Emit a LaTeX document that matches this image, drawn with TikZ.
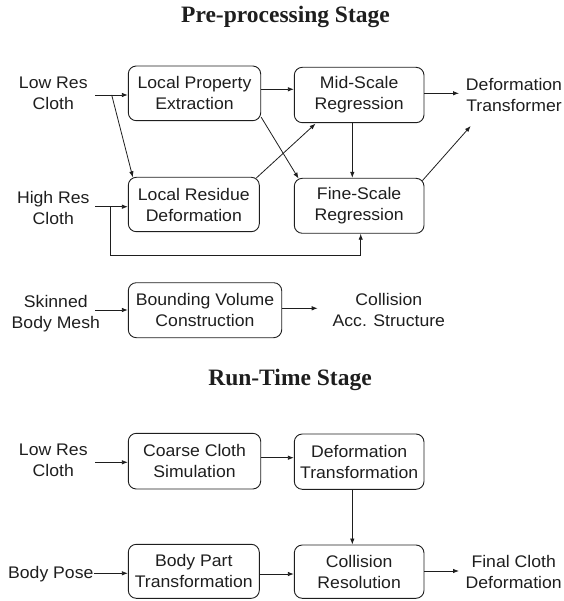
\documentclass[tikz,border=0pt]{standalone}
\usepackage{fontspec}
\newfontfamily\sansf{Liberation Sans}[FakeStretch=1.05]
\newfontfamily\titlef{Liberation Serif}
\usetikzlibrary{arrows.meta,calc}
\definecolor{ink}{HTML}{1E1E1E}
\begin{document}
\begin{tikzpicture}[x=1pt,y=-1pt,
  box/.style={draw=ink, line width=0.9pt, rounded corners=8pt, inner sep=0pt, align=center,
    text=ink, font=\sansf\fontsize{16.8}{21}\selectfont},
  lbl/.style={inner sep=0pt, align=center, text=ink, font=\sansf\fontsize{16.8}{21}\selectfont},
  arr/.style={draw=ink, line width=0.8pt, -{Latex[length=6pt,width=4.5pt]}},
  ttl/.style={inner sep=0pt, text=ink, font=\titlef\bfseries\fontsize{23.5}{28}\selectfont}]
\useasboundingbox (0,0) rectangle (563,601);

% titles
\node[ttl, anchor=base] (t1) at (285.5,22.7) {Pre-processing Stage};
\node[ttl, anchor=base] (t2) at (290,385) {Run-Time Stage};

% boxes
\node[box, minimum width=132.4pt, minimum height=54.7pt] (LPE) at (194.5,93.35) {Local Property\\Extraction};
\node[box, minimum width=129.7pt, minimum height=55.4pt] (MSR) at (359.15,95) {Mid-Scale\\Regression};
\node[box, minimum width=131pt, minimum height=54.4pt] (LRD) at (193.8,204.5) {Local Residue\\Deformation};
\node[box, minimum width=129.7pt, minimum height=55pt] (FSR) at (359.15,205.8) {Fine-Scale\\Regression};
\node[box, minimum width=153.4pt, minimum height=55pt] (BVC) at (205,310.2) {Bounding Volume\\Construction};
\node[box, minimum width=132.4pt, minimum height=55.7pt] (CCS) at (194.5,461.15) {Coarse Cloth\\Simulation};
\node[box, minimum width=129.7pt, minimum height=55.3pt] (DTf) at (359.15,461.65) {Deformation\\Transformation};
\node[box, minimum width=131pt, minimum height=54pt] (BPT) at (193.8,571.3) {Body Part\\Transformation};
\node[box, minimum width=129.7pt, minimum height=53.3pt] (CR) at (359.15,571.65) {Collision\\Resolution};

% free labels
\node[lbl] (lr1) at (53.3,93.5) {Low Res\\Cloth};
\node[lbl] (hr) at (53.3,208) {High Res\\Cloth};
\node[lbl] (skin) at (55.8,313.3) {Skinned\\Body Mesh};
\node[lbl] (cas) at (388.8,310.3) {Collision\\Acc. Structure};
\node[lbl] (dtr) at (514,95) {Deformation\\Transformer};
\node[lbl] (lr2) at (53.3,460) {Low Res\\Cloth};
\node[lbl, anchor=base] (bp) at (50.8,578.3) {Body Pose};
\node[lbl] (fcd) at (513.7,572) {Final Cloth\\Deformation};

% coordinates for free ends
\coordinate (lr1o) at (95,95);
\coordinate (br1) at (111.7,95);
\coordinate (hr1o) at (95,206.7);
\coordinate (br2) at (110,206.7);
\coordinate (bot) at (360.7,255);
\coordinate (dtin) at (459,93.3);
\coordinate (dtin2) at (470.7,126);
\coordinate (sko) at (95,310);
\coordinate (caout) at (317.7,308.3);
\coordinate (lr2o) at (95,462.3);
\coordinate (fcin) at (459,571);

% pre-processing connectors
\draw[arr] (lr1o) -- (lr1o -| LPE.west);
\draw[arr] (br1) -- ($(LRD.north west)+(5,0.5)$);
\draw[arr] (hr1o) -- (hr1o -| LRD.west);
\draw[arr] (br2) |- (bot) -- (bot |- FSR.south);
\draw[arr] (LPE.east |- 0,89.3) -- (MSR.west |- 0,89.3);
\draw[arr] ($(LPE.south east)+(0,-4)$) -- ($(FSR.north west)+(4.7,0.7)$);
\draw[arr] ($(LRD.north east)+(-3.6,1.3)$) -- ($(MSR.south west)+(21.7,0.5)$);
\draw[arr] (MSR.south -| 352.3,0) -- (FSR.north -| 352.3,0);
\draw[arr] (MSR.east |- dtin) -- (dtin);
\draw[arr] ($(FSR.north east)+(-2,2.7)$) -- (dtin2);
\draw[arr] (sko) -- (sko -| BVC.west);
\draw[arr] (BVC.east |- caout) -- (caout);

% run-time connectors
\draw[arr] (lr2o) -- (lr2o -| CCS.west);
\draw[arr] (CCS.east |- 0,457.7) -- (DTf.west |- 0,457.7);
\draw[arr] (DTf.south -| 352.3,0) -- (CR.north -| 352.3,0);
\draw[arr] (bp.east |- 0,573.3) -- (BPT.west |- 0,573.3);
\draw[arr] (BPT.east |- 0,574) -- (CR.west |- 0,574);
\draw[arr] (CR.east |- fcin) -- (fcin);
\end{tikzpicture}
\end{document}
